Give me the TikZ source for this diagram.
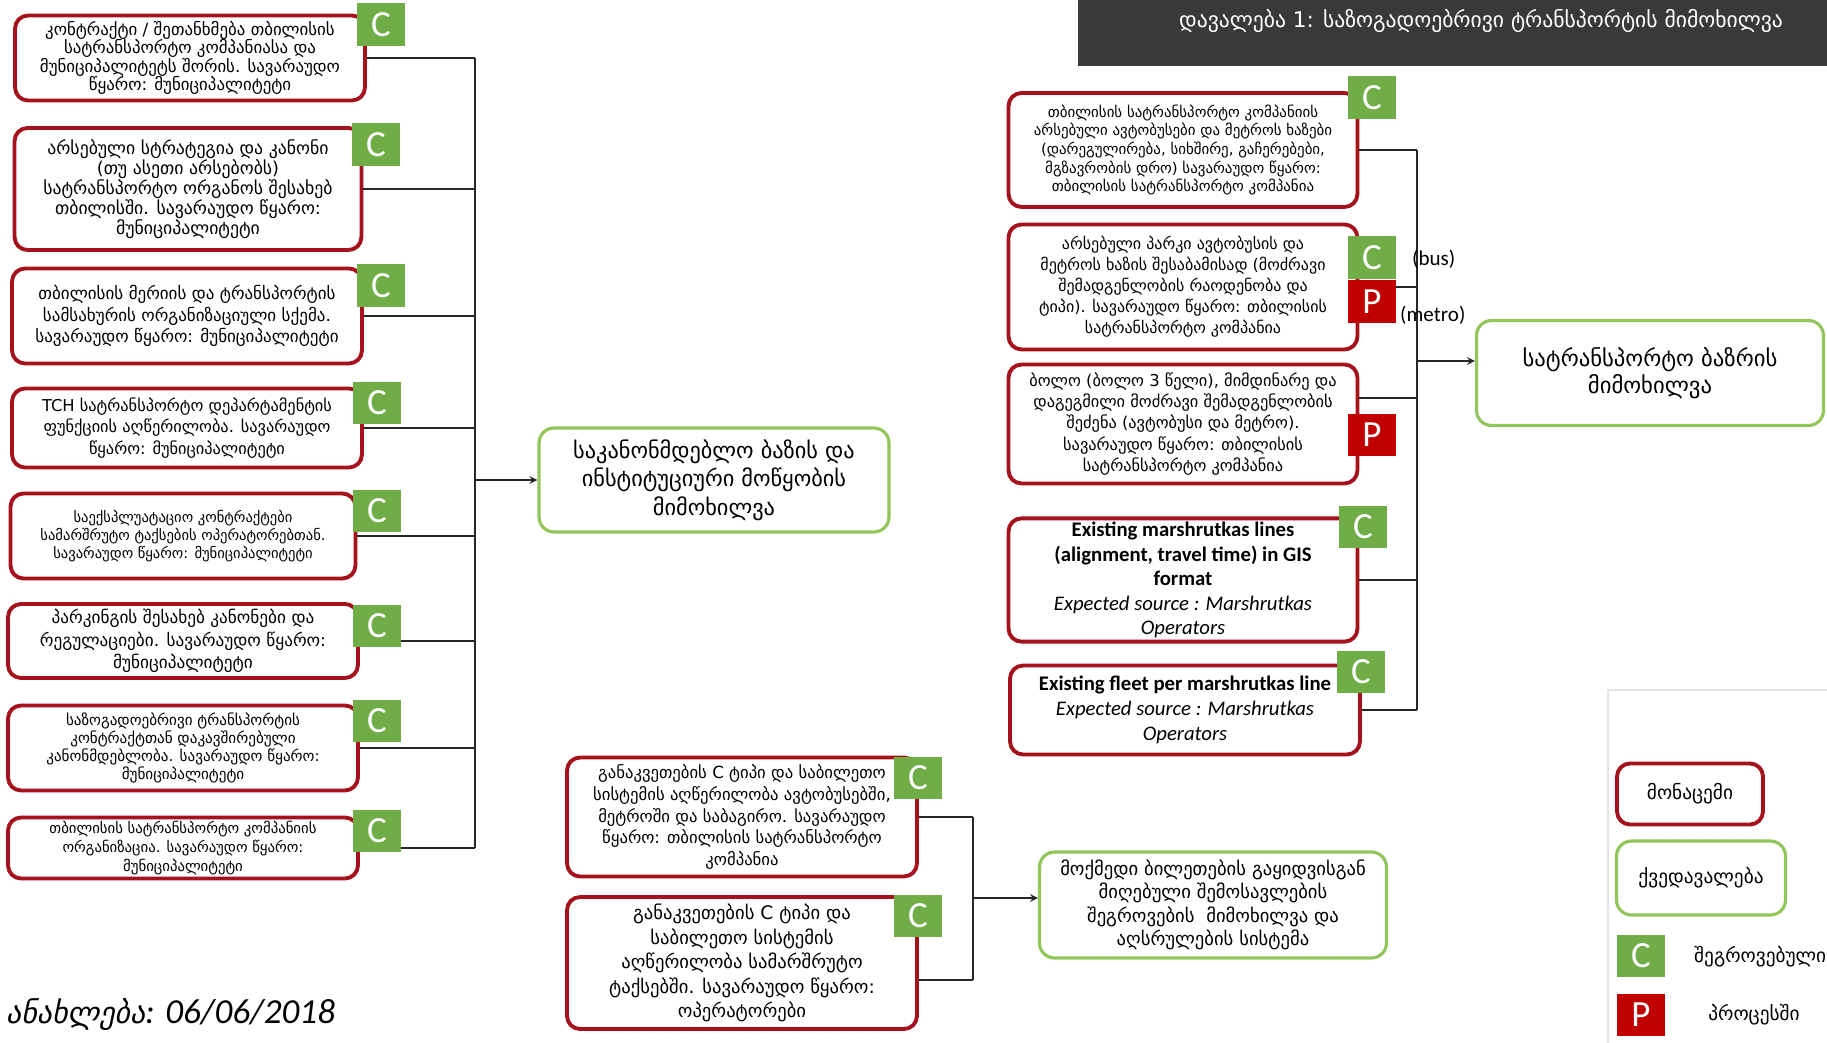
\documentclass[tikz,border=0pt]{standalone}
\usepackage{fontspec}
\setmainfont{Carlito}
\newfontfamily\geo{DejaVu Sans}
\newcommand\fsz[2]{\fontsize{#1}{#2}\selectfont}
\definecolor{datared}{RGB}{165,18,28}
\definecolor{taskgreen}{RGB}{146,198,90}
\definecolor{donegreen}{RGB}{112,173,71}
\definecolor{procred}{RGB}{192,0,0}
\definecolor{titlegray}{RGB}{58,56,56}
\definecolor{framegray}{RGB}{228,228,228}
\begin{document}
\begin{tikzpicture}[x=0.02cm, y=-0.02cm, line join=round, >=stealth,
  datbox/.style={draw=datared, line width=2.2pt, rounded corners=0.26cm, fill=white, align=center, minimum width=7cm, inner sep=2pt},
  taskbox/.style={draw=taskgreen, line width=1.8pt, rounded corners=0.3cm, fill=white, align=center, minimum width=7cm, inner sep=2pt},
  cbox/.style={fill=donegreen, text=white, minimum width=0.96cm, minimum height=0.86cm, inner sep=0pt, font=\fsz{21}{21}},
  pbox/.style={cbox, fill=procred},
  link/.style={draw=black!85, line width=1pt}]
\useasboundingbox (0,0) rectangle (1827,1043);
\fill[titlegray] (1078,0) rectangle (1827,66);
\node[text=white, font=\geo\fsz{12.3}{14}] (title) at (1481,21) {დავალება 1: საზოგადოებრივი ტრანსპორტის მიმოხილვა};

\node[datbox, minimum height=1.7cm, font=\geo\fsz{9.6}{10.4}] (b1) at (190,58) {კონტრაქტი / შეთანხმება თბილისის\\სატრანსპორტო კომპანიასა და\\მუნიციპალიტეტს შორის. სავარაუდო\\წყარო: მუნიციპალიტეტი};
\node[datbox, minimum width=6.94cm, minimum height=2.44cm, font=\geo\fsz{10.1}{11.3}] (b2) at (188,189) {არსებული სტრატეგია და კანონი\\(თუ ასეთი არსებობს)\\სატრანსპორტო ორგანოს შესახებ\\თბილისში. სავარაუდო წყარო:\\მუნიციპალიტეტი};
\node[datbox, minimum height=1.9cm, font=\geo\fsz{9.7}{12.3}] (b3) at (187,316) {თბილისის მერიის და ტრანსპორტის\\სამსახურის ორგანიზაციული სქემა.\\სავარაუდო წყარო: მუნიციპალიტეტი};
\node[datbox, minimum height=1.58cm, font=\geo\fsz{9.3}{12.3}] (b4) at (187,428) {TCH სატრანსპორტო დეპარტამენტის\\ფუნქციის აღწერილობა. სავარაუდო\\წყარო: მუნიციპალიტეტი};
\node[datbox, minimum width=6.9cm, minimum height=1.7cm, font=\geo\fsz{8.3}{10.4}] (b5) at (183,536) {საექსპლუატაციო კონტრაქტები\\სამარშრუტო ტაქსების ოპერატორებთან.\\სავარაუდო წყარო: მუნიციპალიტეტი};
\node[datbox, minimum height=1.48cm, font=\geo\fsz{9.8}{12.7}] (b6) at (183,641) {პარკინგის შესახებ კანონები და\\რეგულაციები. სავარაუდო წყარო:\\მუნიციპალიტეტი};
\node[datbox, minimum height=1.7cm, font=\geo\fsz{8.6}{10.4}] (b7) at (183,748) {საზოგადოებრივი ტრანსპორტის\\კონტრაქტთან დაკავშირებული\\კანონმდებლობა. სავარაუდო წყარო:\\მუნიციპალიტეტი};
\node[datbox, minimum height=1.22cm, font=\geo\fsz{8.4}{10.8}] (b8) at (183,848) {თბილისის სატრანსპორტო კომპანიის\\ორგანიზაცია. სავარაუდო წყარო:\\მუნიციპალიტეტი};
\node[taskbox, minimum height=2.08cm, font=\geo\fsz{12.7}{16.2}] (legal) at (714,480) {საკანონმდებლო ბაზის და\\ინსტიტუციური მოწყობის\\მიმოხილვა};

\coordinate (lbus) at (475,0);
\foreach \i in {1,...,8} \draw[link] (b\i.east) -- (b\i.east -| lbus);
\draw[link] (b1.east -| lbus) -- (b8.east -| lbus);
\draw[link,->] (legal.west -| lbus) -- (legal.west);

\node[datbox, minimum width=6.98cm, minimum height=2.28cm, font=\geo\fsz{8.5}{10.6}] (r1) at (1183,150) {თბილისის სატრანსპორტო კომპანიის\\არსებული ავტობუსები და მეტროს ხაზები\\(დარეგულირება, სიხშირე, გაჩერებები,\\მგზავრობის დრო) სავარაუდო წყარო:\\თბილისის სატრანსპორტო კომპანია};
\node[datbox, minimum width=6.98cm, minimum height=2.5cm, font=\geo\fsz{9.1}{11.9}] (r2) at (1183,287) {არსებული პარკი ავტობუსის და\\მეტროს ხაზის შესაბამისად (მოძრავი\\შემადგენლობის რაოდენობა და\\ტიპი). სავარაუდო წყარო: თბილისის\\სატრანსპორტო კომპანია};
\node[datbox, minimum width=6.98cm, minimum height=2.38cm, font=\geo\fsz{9.3}{12.2}] (r3) at (1183,424) {ბოლო (ბოლო 3 წელი), მიმდინარე და\\დაგეგმილი მოძრავი შემადგენლობის\\შეძენა (ავტობუსი და მეტრო).\\სავარაუდო წყარო: თბილისის\\სატრანსპორტო კომპანია};
\node[datbox, minimum width=6.98cm, minimum height=2.46cm, font=\fsz{11.8}{14}] (r4) at (1183,580) {\textbf{Existing marshrutkas lines}\\\textbf{(alignment, travel time) in GIS}\\\textbf{format}\\\textit{Expected source : Marshrutkas}\\\textit{Operators}};
\node[datbox, minimum height=1.78cm, font=\fsz{11.8}{14.2}] (r5) at (1185,710) {\textbf{Existing fleet per marshrutkas line}\\\textit{Expected source : Marshrutkas}\\\textit{Operators}};
\node[taskbox, minimum width=6.94cm, minimum height=2.1cm, font=\geo\fsz{12.9}{15.2}] (market) at (1650,373) {სატრანსპორტო ბაზრის\\მიმოხილვა};

\coordinate (rbus) at (1417,0);
\draw[link] (r1.east) -- (r1.east -| rbus);
\draw[link] (r2.east) -- (r2.east -| rbus);
\draw[link] ([yshift=0.52cm]r3.east) -- ([yshift=0.52cm]r3.east -| rbus);
\draw[link] (r4.east) -- (r4.east -| rbus);
\draw[link] (r5.east) -- (r5.east -| rbus);
\draw[link] (r1.east -| rbus) -- (r5.east -| rbus);
\draw[link,->] ([yshift=0.24cm]market.west -| rbus) -- ([yshift=0.24cm]market.west);
\node[anchor=west, font=\fsz{12}{14}] (buslbl) at (1406,259) {(bus)};
\node[anchor=west, font=\fsz{12}{14}] (metrolbl) at (1394,315) {(metro)};

\node[datbox, minimum height=2.38cm, font=\geo\fsz{9.5}{12.5}] (tick1) at (742,817) {განაკვეთების C ტიპი და საბილეთო\\სისტემის აღწერილობა ავტობუსებში,\\მეტროში და საბაგირო. სავარაუდო\\წყარო: თბილისის სატრანსპორტო\\კომპანია};
\node[datbox, minimum height=2.64cm, font=\geo\fsz{10.6}{13.9}] (tick2) at (742,963) {განაკვეთების C ტიპი და\\საბილეთო სისტემის\\აღწერილობა სამარშრუტო\\ტაქსებში. სავარაუდო წყარო:\\ოპერატორები};
\node[taskbox, minimum width=6.94cm, minimum height=2.12cm, font=\geo\fsz{10.6}{13.4}] (revenue) at (1213,905) {მოქმედი ბილეთების გაყიდვისგან\\მიღებული შემოსავლების\\შეგროვების~~მიმოხილვა და\\აღსრულების სისტემა};

\coordinate (tbus) at (973,0);
\draw[link] (tick1.east) -- (tick1.east -| tbus);
\draw[link] ([yshift=-0.34cm]tick2.east) -- ([yshift=-0.34cm]tick2.east -| tbus);
\draw[link] (tick1.east -| tbus) -- ([yshift=-0.34cm]tick2.east -| tbus);
\draw[link,->] ([yshift=0.14cm]revenue.west -| tbus) -- ([yshift=0.14cm]revenue.west);

\node[cbox] (c1) at (381,25) {C};
\node[cbox] (c2) at (376,145) {C};
\node[cbox] (c3) at (381,286) {C};
\node[cbox] (c4) at (377,403) {C};
\node[cbox] (c5) at (377,511) {C};
\node[cbox] (c6) at (377,626) {C};
\node[cbox] (c7) at (377,721) {C};
\node[cbox] (c8) at (377,831) {C};
\node[cbox] (rc1) at (1372,98) {C};
\node[cbox] (rc2) at (1372,258) {C};
\node[pbox] (rp2) at (1372,302) {P};
\node[pbox] (rp3) at (1372,435) {P};
\node[cbox] (rc4) at (1363,527) {C};
\node[cbox] (rc5) at (1361,672) {C};
\node[cbox] (tc1) at (918,778) {C};
\node[cbox] (tc2) at (918,916) {C};

\draw[framegray, line width=1pt] (1608,1043) -- (1608,690) -- (1827,690);
\node[datbox, minimum width=2.92cm, minimum height=1.22cm, font=\geo\fsz{11}{12}] (keydata) at (1690,794) {მონაცემი};
\node[taskbox, minimum width=3.38cm, minimum height=1.48cm, font=\geo\fsz{11}{12}] (keytask) at (1701,878) {ქვედავალება};
\node[cbox] (keyc) at (1641,956) {C};
\node[pbox] (keyp) at (1641,1015) {P};
\node[anchor=west, font=\geo\fsz{11}{12}] (keyctext) at (1688,957) {შეგროვებული};
\node[font=\geo\fsz{11}{12}] (keyptext) at (1754,1015) {პროცესში};

\node[anchor=west, font=\fsz{20}{22}] (update) at (0,1015) {{\geo\itshape\fsz{17}{22}ანახლება}\textit{: 06/06/2018}};
\end{tikzpicture}
\end{document}
